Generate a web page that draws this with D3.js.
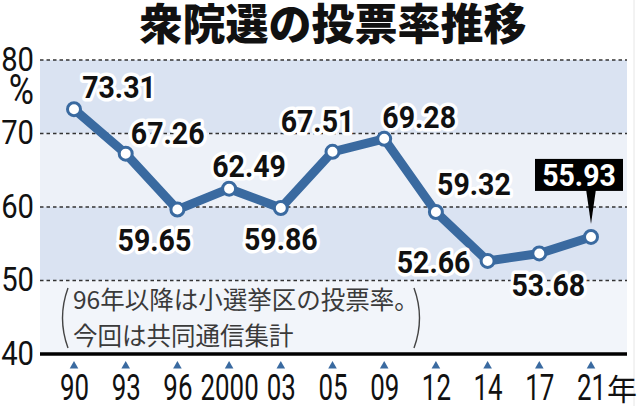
<!DOCTYPE html>
<html>
<head>
<meta charset="utf-8">
<script src="https://cdn.jsdelivr.net/npm/d3@7"></script>
<style>
  body { margin: 0; background: #fff; }
  svg { display: block; }
</style>
</head>
<body>
<svg id="chart" width="640" height="406"></svg>
<script>
const years = ['90', '93', '96', '2000', '03', '05', '09', '12', '14', '17', '21']
const turnout = [73.31, 67.26, 59.65, 62.49, 59.86, 67.51, 69.28, 59.32, 52.66, 53.68, 55.93]
const yTicks = [40, 50, 60, 70, 80]
const title = '衆院選の投票率推移'
const noteLines = ['96年以降は小選挙区の投票率。', '今回は共同通信集計']

// label placement relative to each point (layout only)
const labelOffset = [
  [45, -22], [42, -21], [-23, 30], [20, -23], [0, 31], [-15, -31],
  [35, -22], [38, -28], [-54, 1], [9, 31], [-12, -62]
]

const blue = '#3a6aa0'
const svg = d3.select('#chart')

const x = d3.scalePoint()
  .domain(years)
  .range([74, 591])

const y = d3.scaleLinear()
  .domain([40, 80])
  .range([354, 60])

const left = 40
const right = 627

// faint frame line on the right
svg.append('line')
  .attr('x1', 634)
  .attr('x2', 634)
  .attr('y1', 0)
  .attr('y2', 406)
  .attr('stroke', '#e6e6e6')
  .attr('stroke-width', 1)

// background bands
const bands = [[70, 80, '#dae3f2'], [60, 70, '#edf1f8'], [50, 60, '#dae3f2'], [40, 50, '#f2f5fa']]
svg.append('g')
  .selectAll('rect')
  .data(bands)
  .enter()
  .append('rect')
  .attr('x', left)
  .attr('width', right - left)
  .attr('y', d => y(d[1]))
  .attr('height', d => y(d[0]) - y(d[1]))
  .attr('fill', d => d[2])

// dashed grid
svg.append('g')
  .selectAll('line')
  .data(yTicks.filter(t => t > 40))
  .enter()
  .append('line')
  .attr('x1', left)
  .attr('x2', right)
  .attr('y1', d => y(d))
  .attr('y2', d => y(d))
  .attr('stroke', '#333')
  .attr('stroke-width', 1.4)
  .attr('stroke-dasharray', '3.5,3')

// base line
svg.append('line')
  .attr('x1', left)
  .attr('x2', right)
  .attr('y1', y(40))
  .attr('y2', y(40))
  .attr('stroke', '#000')
  .attr('stroke-width', 3.5)

// title
svg.append('text')
  .text(title)
  .attr('x', 333)
  .attr('y', 40)
  .attr('text-anchor', 'middle')
  .attr('font-family', '"Noto Sans CJK JP"')
  .attr('font-weight', 900)
  .attr('font-size', 43)
  .attr('fill', '#111')

// y axis
const leftAxis = d3.axisLeft(y)
  .tickValues(yTicks)
  .tickSize(0)
  .tickPadding(0)

const yAxisG = svg.append('g')
  .attr('transform', 'translate(34, 0)')
  .call(leftAxis)
yAxisG.select('.domain').remove()
yAxisG.selectAll('text')
  .attr('font-family', 'Roboto')
  .attr('font-size', 34)
  .attr('fill', '#111')
  .attr('dy', '0.3em')
  .attr('transform', 'scale(0.86,1)')

svg.append('text')
  .text('%')
  .attr('text-anchor', 'end')
  .attr('transform', 'translate(34, 89) scale(0.8,1)')
  .attr('dy', '0.35em')
  .attr('font-family', 'Roboto')
  .attr('font-size', 43)
  .attr('fill', '#111')

// x axis
const bottomAxis = d3.axisBottom(x)
  .tickSize(0)
  .tickPadding(0)

const xAxisG = svg.append('g')
  .attr('transform', 'translate(0, 400)')
  .call(bottomAxis)
xAxisG.select('.domain').remove()
xAxisG.selectAll('text')
  .attr('y', 0)
  .attr('dy', 0)
  .attr('font-family', 'Roboto')
  .attr('font-size', 37)
  .attr('fill', '#111')
  .attr('transform', 'scale(0.7,1)')

svg.append('text')
  .text('年')
  .attr('x', x('21') + 16)
  .attr('y', 400)
  .attr('font-family', '"Noto Sans CJK JP"')
  .attr('font-size', 30)
  .attr('fill', '#111')

// tick triangles
svg.append('g')
  .selectAll('path')
  .data(years)
  .enter()
  .append('path')
  .attr('d', d3.symbol(d3.symbolTriangle, 32))
  .attr('transform', d => `translate(${x(d)}, 366)`)
  .attr('fill', blue)

// note
svg.append('g')
  .selectAll('text')
  .data(noteLines)
  .enter()
  .append('text')
  .text(d => d)
  .attr('x', 73)
  .attr('y', (d, i) => 309 + i * 36)
  .attr('font-family', '"Noto Sans CJK JP"')
  .attr('font-size', 24.5)
  .attr('fill', '#3a3a3a')

svg.append('path')
  .attr('d', 'M68,288 Q57,318 68,348')
  .attr('fill', 'none')
  .attr('stroke', '#444')
  .attr('stroke-width', 1.4)
svg.append('path')
  .attr('d', 'M414,288 Q425,318 414,348')
  .attr('fill', 'none')
  .attr('stroke', '#444')
  .attr('stroke-width', 1.4)

// line
const points = years.map((yr, i) => ({ year: yr, value: turnout[i], off: labelOffset[i] }))

const line = d3.line()
  .x(d => x(d.year))
  .y(d => y(d.value))

svg.append('path')
  .datum(points)
  .attr('d', line)
  .attr('fill', 'none')
  .attr('stroke', blue)
  .attr('stroke-width', 9)
  .attr('stroke-linejoin', 'round')

svg.append('g')
  .selectAll('circle')
  .data(points)
  .enter()
  .append('circle')
  .attr('cx', d => x(d.year))
  .attr('cy', d => y(d.value))
  .attr('r', 6.5)
  .attr('fill', '#fff')
  .attr('stroke', blue)
  .attr('stroke-width', 3)

// value labels
const last = points[points.length - 1]
const normal = points.slice(0, -1)

svg.append('g')
  .selectAll('text')
  .data(normal)
  .enter()
  .append('text')
  .text(d => d.value.toFixed(2))
  .attr('text-anchor', 'middle')
  .attr('dy', '0.36em')
  .attr('transform', d => `translate(${x(d.year) + d.off[0]}, ${y(d.value) + d.off[1]}) scale(0.92,1)`)
  .attr('font-family', 'Roboto')
  .attr('font-weight', 700)
  .attr('font-size', 31)
  .attr('fill', '#111')
  .attr('stroke', '#fff')
  .attr('stroke-width', 7)
  .attr('stroke-linejoin', 'round')
  .attr('paint-order', 'stroke')

// callout for latest value
const cx = x(last.year)
const cy = y(last.value)
const bx = cx + last.off[0]
const by = cy + last.off[1]
const callout = svg.append('g')

callout.append('path')
  .attr('d', `M${cx - 5},${by + 14} L${cx + 5},${by + 14} L${cx},${cy - 13} Z`)
  .attr('fill', '#000')

callout.append('rect')
  .attr('x', bx - 44)
  .attr('y', by - 16)
  .attr('width', 88)
  .attr('height', 32)
  .attr('fill', '#000')

callout.append('text')
  .text(last.value.toFixed(2))
  .attr('text-anchor', 'middle')
  .attr('dy', '0.36em')
  .attr('transform', `translate(${bx}, ${by}) scale(0.92,1)`)
  .attr('font-family', 'Roboto')
  .attr('font-weight', 700)
  .attr('font-size', 31)
  .attr('fill', '#fff')
</script>
</body>
</html>
